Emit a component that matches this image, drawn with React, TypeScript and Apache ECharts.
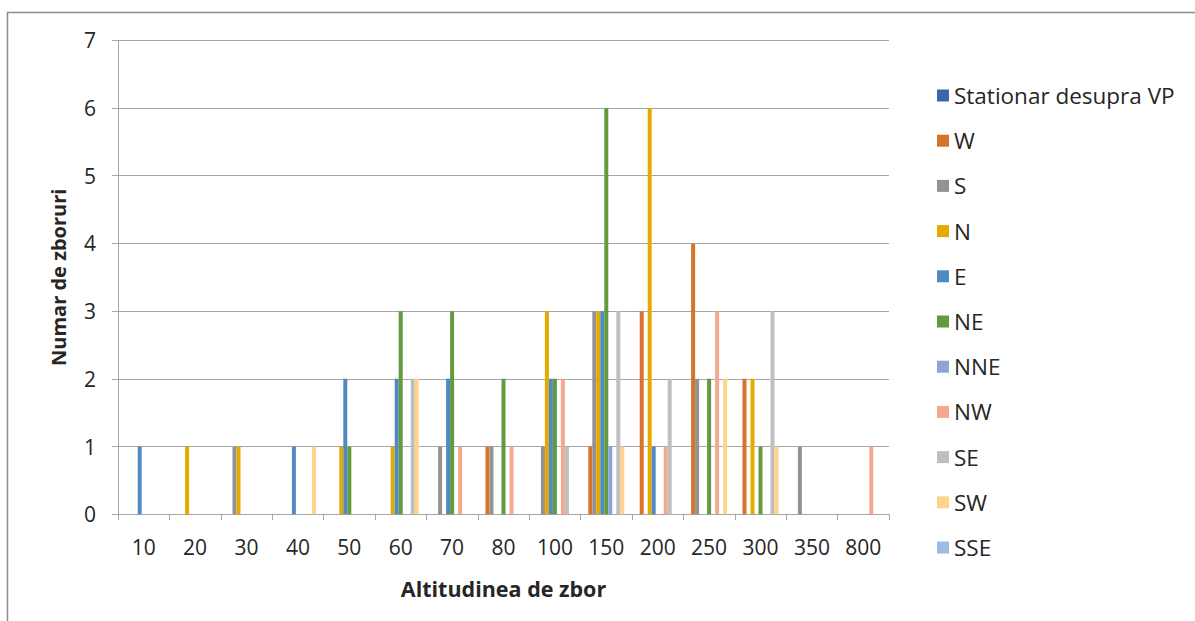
import React, { useEffect, useRef } from "react";
import * as echarts from "echarts";

// Flight altitude classes (x axis)
const altitudes = ["10", "20", "30", "40", "50", "60", "70", "80", "100", "150", "200", "250", "300", "350", "800"];

// Number of flights per direction, one value per altitude class
const stationar = [0, 0, 0, 0, 0, 0, 0, 0, 0, 0, 0, 0, 0, 0, 0];
const west = [0, 0, 0, 0, 0, 0, 0, 1, 0, 1, 3, 4, 2, 0, 0];
const south = [0, 0, 1, 0, 0, 0, 1, 1, 1, 3, 0, 2, 0, 1, 0];
const north = [0, 1, 1, 0, 1, 1, 0, 0, 3, 3, 6, 0, 2, 0, 0];
const east = [1, 0, 0, 1, 2, 2, 2, 0, 2, 3, 1, 0, 0, 0, 0];
const northEast = [0, 0, 0, 0, 1, 3, 3, 2, 2, 6, 0, 2, 1, 0, 0];
const northNorthEast = [0, 0, 0, 0, 0, 0, 0, 0, 0, 1, 0, 0, 0, 0, 0];
const northWest = [0, 0, 0, 0, 0, 0, 1, 1, 2, 0, 1, 3, 0, 0, 1];
const southEast = [0, 0, 0, 0, 0, 2, 0, 0, 1, 3, 2, 0, 3, 0, 0];
const southWest = [0, 0, 0, 1, 0, 2, 0, 0, 0, 1, 0, 2, 1, 0, 0];
const southSouthEast = [0, 0, 0, 0, 0, 0, 0, 0, 0, 0, 0, 0, 0, 0, 0];

const seriesNames = ["Stationar desupra VP", "W", "S", "N", "E", "NE", "NNE", "NW", "SE", "SW", "SSE"];
const seriesValues = [stationar, west, south, north, east, northEast, northNorthEast, northWest, southEast, southWest, southSouthEast];
const seriesColors = ["#3B64AD", "#D8732C", "#939393", "#E4AA00", "#5189C3", "#629A3E", "#8EA3D6", "#F2A98E", "#BFBFBF", "#FFD38A", "#9CBCE2"];

const yTicks = { min: 0, max: 7, interval: 1 };

const FONT = "'Open Sans', sans-serif";
const TEXT = "#262626";
const GRID_LINE = "#A6A6A6";

export default function App() {
  const ref = useRef<HTMLDivElement>(null);

  useEffect(() => {
    if (!ref.current) return;
    const chart = echarts.init(ref.current, null, { renderer: "svg" });
    chart.setOption({
      animation: false,
      backgroundColor: "#ffffff",
      color: seriesColors,
      textStyle: { fontFamily: FONT },
      graphic: [
        {
          type: "rect",
          shape: { x: 7.5, y: 12.5, width: 1400, height: 800 },
          style: { fill: "none", stroke: "#8C8C8C", lineWidth: 1.5 },
          silent: true,
        },
      ],
      grid: { left: 118, top: 40.3, right: 306, bottom: 106.7, containLabel: false },
      legend: {
        orient: "vertical",
        left: 932,
        top: 79,
        icon: "rect",
        itemWidth: 12,
        itemHeight: 12,
        itemGap: 22.2,
        textStyle: { fontFamily: FONT, fontSize: 22.5, color: TEXT, lineHeight: 23, padding: [0, 0, 0, 0] },
        data: seriesNames,
      },
      xAxis: {
        type: "category",
        data: altitudes,
        name: "Altitudinea de zbor",
        nameLocation: "middle",
        nameGap: 63,
        nameTextStyle: { fontFamily: FONT, fontSize: 21.5, fontWeight: "bold", color: TEXT },
        axisLine: { show: true, lineStyle: { color: GRID_LINE, width: 1 } },
        axisTick: { show: true, length: 6, lineStyle: { color: GRID_LINE } },
        axisLabel: { fontFamily: FONT, fontSize: 21, color: TEXT, margin: 22 },
        splitLine: { show: false },
      },
      yAxis: {
        type: "value",
        min: yTicks.min,
        max: yTicks.max,
        interval: yTicks.interval,
        name: "Numar de zboruri",
        nameLocation: "middle",
        nameRotate: 90,
        nameGap: 50,
        nameTextStyle: { fontFamily: FONT, fontSize: 20, fontWeight: "bold", color: TEXT },
        axisLine: { show: true, lineStyle: { color: GRID_LINE, width: 1 } },
        axisTick: { show: true, length: 6, lineStyle: { color: GRID_LINE } },
        axisLabel: { fontFamily: FONT, fontSize: 21, color: TEXT, margin: 22 },
        splitLine: { show: true, lineStyle: { color: GRID_LINE, width: 1 } },
      },
      series: seriesNames.map((name, i) => ({
        name,
        type: "bar",
        data: seriesValues[i],
        barGap: "0%",
        barCategoryGap: "14.4%",
        itemStyle: { color: seriesColors[i] },
      })),
    });
    return () => chart.dispose();
  }, []);

  return (
    <div
      ref={ref}
      style={{ position: "absolute", left: 0, top: 0, width: 1195, height: 621 }}
    />
  );
}
